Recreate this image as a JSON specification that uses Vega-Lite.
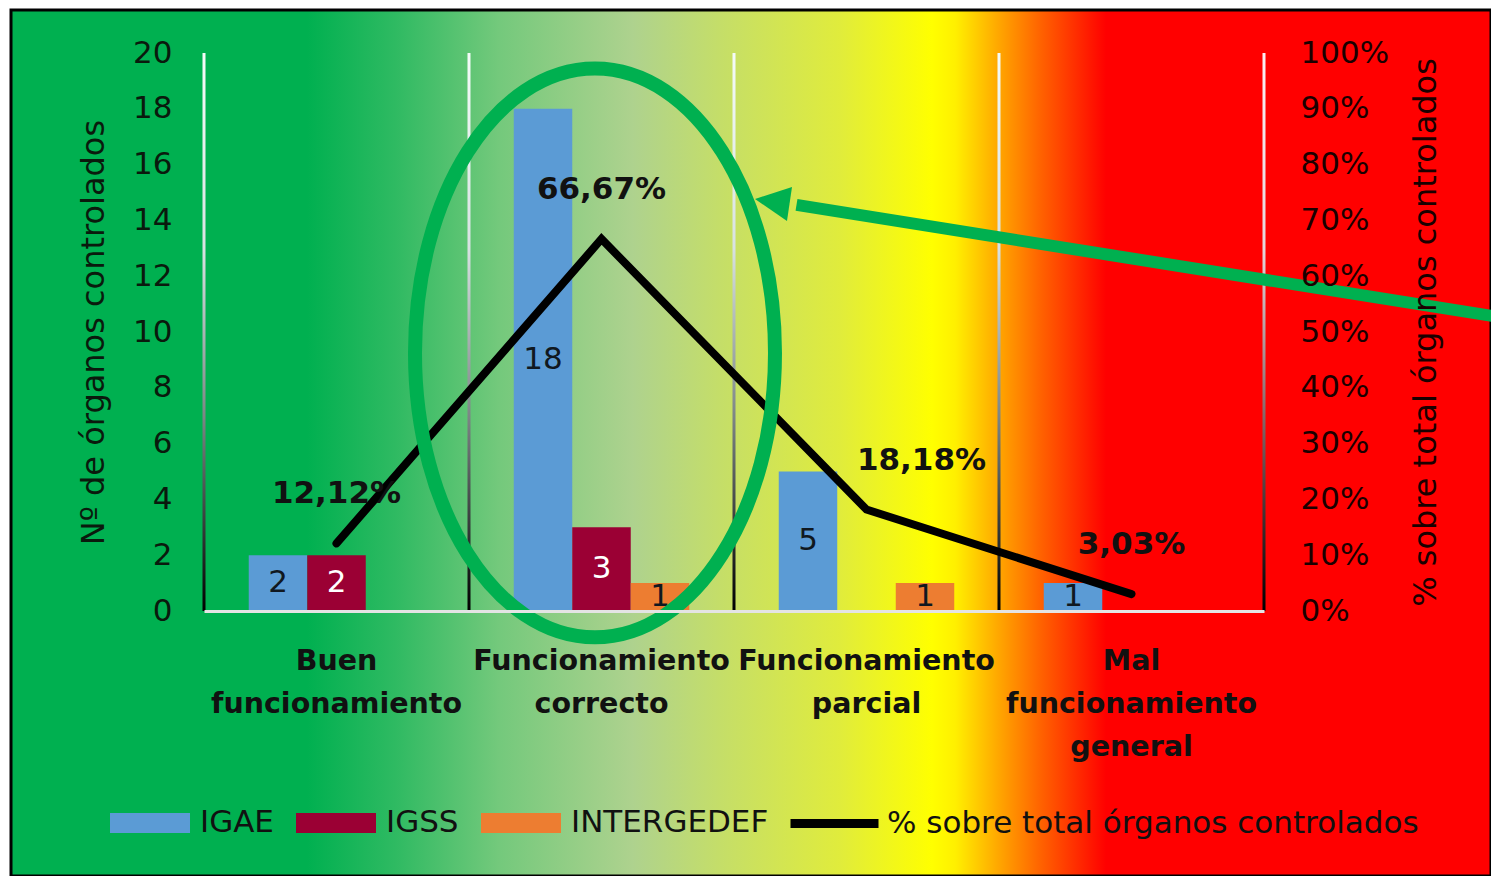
{
  "$schema": "https://vega.github.io/schema/vega-lite/v6.json",
  "width": 1480,
  "height": 866,
  "autosize": "none",
  "padding": {"left": 11, "top": 10, "right": 0, "bottom": 0},
  "background": "white",
  "config": {
    "font": "DejaVu Sans",
    "view": {"stroke": null},
    "locale": {"number": {"decimal": ",", "thousands": ".", "grouping": [3], "currency": ["", " €"]}}
  },
  "datasets": {
    "bars": [
      {"cat": "Buen funcionamiento", "org": "IGAE", "n": 2},
      {"cat": "Buen funcionamiento", "org": "IGSS", "n": 2},
      {"cat": "Funcionamiento correcto", "org": "IGAE", "n": 18},
      {"cat": "Funcionamiento correcto", "org": "IGSS", "n": 3},
      {"cat": "Funcionamiento correcto", "org": "INTERGEDEF", "n": 1},
      {"cat": "Funcionamiento parcial", "org": "IGAE", "n": 5},
      {"cat": "Funcionamiento parcial", "org": "INTERGEDEF", "n": 1},
      {"cat": "Mal funcionamiento general", "org": "IGAE", "n": 1}
    ],
    "pct": [
      {"cat": "Buen funcionamiento", "pct": 0.1212},
      {"cat": "Funcionamiento correcto", "pct": 0.6667},
      {"cat": "Funcionamiento parcial", "pct": 0.1818},
      {"cat": "Mal funcionamiento general", "pct": 0.0303}
    ],
    "cats": [
      {"cat": "Buen funcionamiento"},
      {"cat": "Funcionamiento correcto"},
      {"cat": "Funcionamiento parcial"},
      {"cat": "Mal funcionamiento general"}
    ],
    "ann": [{"cat": "Funcionamiento correcto"}]
  },
  "layer": [
    {
      "data": {"values": [{}]},
      "mark": {
        "type": "rect",
        "fill": {
          "gradient": "linear", "x1": 0, "y1": 0, "x2": 1, "y2": 0,
          "stops": [
            {"offset": 0, "color": "#00b050"},
            {"offset": 0.2, "color": "#00b050"},
            {"offset": 0.26, "color": "#2fba62"},
            {"offset": 0.33, "color": "#74c97c"},
            {"offset": 0.42, "color": "#aed28e"},
            {"offset": 0.48, "color": "#c5de68"},
            {"offset": 0.56, "color": "#e0ec3c"},
            {"offset": 0.622, "color": "#ffff00"},
            {"offset": 0.638, "color": "#fff000"},
            {"offset": 0.668, "color": "#ffa500"},
            {"offset": 0.695, "color": "#ff6400"},
            {"offset": 0.74, "color": "#ff0000"},
            {"offset": 1, "color": "#ff0000"}
          ]
        },
        "stroke": "#000000",
        "strokeWidth": 3
      },
      "encoding": {}
    },
    {
      "data": {"name": "cats"},
      "mark": {
        "type": "bar",
        "width": 3,
        "xOffset": {"expr": "-bandwidth('x')/2"},
        "fill": {
          "gradient": "linear", "x1": 0, "y1": 0, "x2": 0, "y2": 1,
          "stops": [
            {"offset": 0, "color": "#f4fbf8"},
            {"offset": 0.35, "color": "#d8e2e2"},
            {"offset": 0.65, "color": "#7d8686"},
            {"offset": 1, "color": "#000000"}
          ]
        }
      },
      "encoding": {
        "x": {"field": "cat", "type": "nominal",
              "scale": {"domain": ["Buen funcionamiento", "Funcionamiento correcto", "Funcionamiento parcial", "Mal funcionamiento general"], "range": [193, 1253], "paddingInner": 0, "paddingOuter": 0},
              "axis": {"orient": "bottom", "offset": -265, "zindex": 1, "title": null, "labelAngle": 0, "domain": true, "domainColor": "#e4e4e4", "domainWidth": 3, "ticks": false, "grid": false, "labelExpr": "split(datum.label, ' ')", "labelFont": "DejaVu Sans", "labelFontWeight": "bold", "labelFontSize": 28.5, "labelLineHeight": 43, "labelPadding": 35, "labelColor": "#111111", "labelLimit": 400}},
        "y": {"datum": 0, "type": "quantitative", "scale": {"domain": [0, 20], "range": [601, 43], "nice": false}, "axis": null},
        "y2": {"datum": 20}
      }
    },
    {
      "data": {"name": "cats"},
      "transform": [{"filter": "datum.cat === 'Mal funcionamiento general'"}],
      "mark": {
        "type": "bar",
        "width": 3,
        "xOffset": {"expr": "bandwidth('x')/2"},
        "fill": {
          "gradient": "linear", "x1": 0, "y1": 0, "x2": 0, "y2": 1,
          "stops": [
            {"offset": 0, "color": "#fbeef2"},
            {"offset": 0.35, "color": "#e6d6da"},
            {"offset": 0.65, "color": "#866868"},
            {"offset": 1, "color": "#000000"}
          ]
        }
      },
      "encoding": {
        "x": {"field": "cat", "type": "nominal",
              "axis": {"orient": "bottom", "offset": -265, "zindex": 1, "title": null, "labelAngle": 0, "domain": true, "domainColor": "#e4e4e4", "domainWidth": 3, "ticks": false, "grid": false, "labelExpr": "split(datum.label, ' ')", "labelFont": "DejaVu Sans", "labelFontWeight": "bold", "labelFontSize": 28.5, "labelLineHeight": 43, "labelPadding": 35, "labelColor": "#111111", "labelLimit": 400}},
        "y": {"datum": 0, "type": "quantitative", "scale": {"domain": [0, 20], "range": [601, 43], "nice": false}, "axis": null},
        "y2": {"datum": 20}
      }
    },
    {
      "data": {"name": "bars"},
      "mark": {"type": "bar"},
      "encoding": {
        "x": {"field": "cat", "type": "nominal",
              "axis": {"orient": "bottom", "offset": -265, "zindex": 1, "title": null, "labelAngle": 0, "domain": true, "domainColor": "#e4e4e4", "domainWidth": 3, "ticks": false, "grid": false, "labelExpr": "split(datum.label, ' ')", "labelFont": "DejaVu Sans", "labelFontWeight": "bold", "labelFontSize": 28.5, "labelLineHeight": 43, "labelPadding": 35, "labelColor": "#111111", "labelLimit": 400}},
        "xOffset": {"field": "org", "type": "nominal", "sort": ["IGAE", "IGSS", "INTERGEDEF"], "scale": {"paddingInner": 0, "paddingOuter": 0.765}},
        "y": {"field": "n", "type": "quantitative", "scale": {"domain": [0, 20], "range": [601, 43], "nice": false},
              "axis": {"orient": "left", "offset": -193, "zindex": 1, "values": [0, 2, 4, 6, 8, 10, 12, 14, 16, 18, 20], "domain": false, "ticks": false, "grid": false,
                       "labelFont": "DejaVu Sans", "labelFontSize": 31, "labelColor": "#0a1a0d", "labelPadding": 32,
                       "title": "Nº de órganos controlados", "titleFont": "DejaVu Sans", "titleFontSize": 32, "titleFontWeight": "normal", "titleColor": "#0a1a0d", "titlePadding": 22}},
        "color": {"field": "org", "type": "nominal",
                  "scale": {"domain": ["IGAE", "IGSS", "INTERGEDEF"], "range": ["#5b9bd5", "#9b0034", "#ed7d31"]},
                  "legend": {"orient": "none", "legendX": 99, "legendY": 773, "direction": "horizontal", "title": null, "padding": 0,
                             "symbolType": "M-1,-0.25H1V0.25H-1Z", "symbolSize": 6400, "symbolStrokeWidth": 0, "symbolOpacity": 1,
                             "labelFont": "DejaVu Sans", "labelFontSize": 31, "labelColor": "#111111", "labelOffset": 10, "labelLimit": 400, "columnPadding": 22}}
      }
    },
    {
      "data": {"name": "bars"},
      "mark": {"type": "text", "fontSize": 31, "font": "DejaVu Sans", "baseline": "middle", "align": "center"},
      "encoding": {
        "x": {"field": "cat", "type": "nominal",
              "axis": {"orient": "bottom", "offset": -265, "zindex": 1, "title": null, "labelAngle": 0, "domain": true, "domainColor": "#e4e4e4", "domainWidth": 3, "ticks": false, "grid": false, "labelExpr": "split(datum.label, ' ')", "labelFont": "DejaVu Sans", "labelFontWeight": "bold", "labelFontSize": 28.5, "labelLineHeight": 43, "labelPadding": 35, "labelColor": "#111111", "labelLimit": 400}},
        "xOffset": {"field": "org", "type": "nominal", "sort": ["IGAE", "IGSS", "INTERGEDEF"]},
        "y": {"field": "n", "type": "quantitative", "scale": {"domain": [0, 40], "range": [601, 43], "nice": false}, "axis": null},
        "text": {"field": "n", "type": "quantitative"},
        "color": {"condition": {"test": "datum.org === 'IGSS'", "value": "#ffffff"}, "value": "#101820"}
      }
    },
    {
      "data": {"name": "pct"},
      "mark": {"type": "line", "strokeWidth": 8, "strokeCap": "round", "strokeJoin": "miter"},
      "encoding": {
        "x": {"field": "cat", "type": "nominal",
              "axis": {"orient": "bottom", "offset": -265, "zindex": 1, "title": null, "labelAngle": 0, "domain": true, "domainColor": "#e4e4e4", "domainWidth": 3, "ticks": false, "grid": false, "labelExpr": "split(datum.label, ' ')", "labelFont": "DejaVu Sans", "labelFontWeight": "bold", "labelFontSize": 28.5, "labelLineHeight": 43, "labelPadding": 35, "labelColor": "#111111", "labelLimit": 400}},
        "y": {"field": "pct", "type": "quantitative", "scale": {"domain": [0, 1], "range": [601, 43], "nice": false},
              "axis": {"orient": "right", "offset": -227, "zindex": 1, "format": ".0%", "values": [0, 0.1, 0.2, 0.3, 0.4, 0.5, 0.6, 0.7, 0.8, 0.9, 1], "domain": false, "ticks": false, "grid": false,
                       "labelFont": "DejaVu Sans", "labelFontSize": 31, "labelColor": "#1a0000", "labelPadding": 36,
                       "title": "% sobre total órganos controlados", "titleFont": "DejaVu Sans", "titleFontSize": 32, "titleFontWeight": "normal", "titleColor": "#1a0000",
                       "titleAngle": 270, "titleBaseline": "top", "titlePadding": 22}},
        "stroke": {"datum": "% sobre total órganos controlados", "type": "nominal", "scale": {"range": ["#000000"]},
                   "legend": {"orient": "none", "legendX": 775, "legendY": 765, "title": null, "padding": 0,
                              "symbolType": "stroke", "symbolSize": 7744, "symbolStrokeWidth": 9,
                              "labelFont": "DejaVu Sans", "labelFontSize": 31, "labelColor": "#111111", "labelOffset": 4, "labelLimit": 700}}
      }
    },
    {
      "data": {"name": "pct"},
      "transform": [{"filter": "datum.cat !== 'Funcionamiento parcial'"}],
      "mark": {"type": "text", "font": "DejaVu Sans", "fontWeight": "bold", "fontSize": 31, "dy": -49, "color": "#111111"},
      "encoding": {
        "x": {"field": "cat", "type": "nominal",
              "axis": {"orient": "bottom", "offset": -265, "zindex": 1, "title": null, "labelAngle": 0, "domain": true, "domainColor": "#e4e4e4", "domainWidth": 3, "ticks": false, "grid": false, "labelExpr": "split(datum.label, ' ')", "labelFont": "DejaVu Sans", "labelFontWeight": "bold", "labelFontSize": 28.5, "labelLineHeight": 43, "labelPadding": 35, "labelColor": "#111111", "labelLimit": 400}},
        "y": {"field": "pct", "type": "quantitative", "scale": {"domain": [0, 1], "range": [601, 43], "nice": false}, "axis": null},
        "text": {"field": "pct", "type": "quantitative", "format": ".2%"}
      }
    },
    {
      "data": {"name": "pct"},
      "transform": [{"filter": "datum.cat === 'Funcionamiento parcial'"}],
      "mark": {"type": "text", "font": "DejaVu Sans", "fontWeight": "bold", "fontSize": 31, "dy": -49, "dx": 55, "color": "#111111"},
      "encoding": {
        "x": {"field": "cat", "type": "nominal",
              "axis": {"orient": "bottom", "offset": -265, "zindex": 1, "title": null, "labelAngle": 0, "domain": true, "domainColor": "#e4e4e4", "domainWidth": 3, "ticks": false, "grid": false, "labelExpr": "split(datum.label, ' ')", "labelFont": "DejaVu Sans", "labelFontWeight": "bold", "labelFontSize": 28.5, "labelLineHeight": 43, "labelPadding": 35, "labelColor": "#111111", "labelLimit": 400}},
        "y": {"field": "pct", "type": "quantitative", "scale": {"domain": [0, 1], "range": [601, 43], "nice": false}, "axis": null},
        "text": {"field": "pct", "type": "quantitative", "format": ".2%"}
      }
    },
    {
      "data": {"name": "ann"},
      "mark": {"type": "point", "shape": "M-0.6217,0A0.6,0.948,0,1,0,0.5783,0A0.6,0.948,0,1,0,-0.6217,0Z", "size": 360000, "filled": false, "stroke": "#00b050", "strokeWidth": 14, "opacity": 1, "strokeOpacity": 1},
      "encoding": {
        "x": {"field": "cat", "type": "nominal",
              "axis": {"orient": "bottom", "offset": -265, "zindex": 1, "title": null, "labelAngle": 0, "domain": true, "domainColor": "#e4e4e4", "domainWidth": 3, "ticks": false, "grid": false, "labelExpr": "split(datum.label, ' ')", "labelFont": "DejaVu Sans", "labelFontWeight": "bold", "labelFontSize": 28.5, "labelLineHeight": 43, "labelPadding": 35, "labelColor": "#111111", "labelLimit": 400}},
        "y": {"datum": 9.25, "type": "quantitative", "scale": {"domain": [0, 20], "range": [601, 43], "nice": false}, "axis": null}
      }
    },
    {
      "data": {"name": "ann"},
      "mark": {"type": "point", "shape": "M2.97,-0.123L0.65,-0.4933", "size": 360000, "filled": false, "stroke": "#00b050", "strokeWidth": 12, "opacity": 1, "strokeOpacity": 1},
      "encoding": {
        "x": {"field": "cat", "type": "nominal",
              "axis": {"orient": "bottom", "offset": -265, "zindex": 1, "title": null, "labelAngle": 0, "domain": true, "domainColor": "#e4e4e4", "domainWidth": 3, "ticks": false, "grid": false, "labelExpr": "split(datum.label, ' ')", "labelFont": "DejaVu Sans", "labelFontWeight": "bold", "labelFontSize": 28.5, "labelLineHeight": 43, "labelPadding": 35, "labelColor": "#111111", "labelLimit": 400}},
        "y": {"datum": 9.25, "type": "quantitative", "scale": {"domain": [0, 20], "range": [601, 43], "nice": false}, "axis": null}
      }
    },
    {
      "data": {"name": "ann"},
      "mark": {"type": "point", "shape": "M0.5117,-0.513L0.635,-0.553L0.6183,-0.4397Z", "size": 360000, "filled": true, "fill": "#00b050", "strokeWidth": 0, "opacity": 1, "fillOpacity": 1},
      "encoding": {
        "x": {"field": "cat", "type": "nominal",
              "axis": {"orient": "bottom", "offset": -265, "zindex": 1, "title": null, "labelAngle": 0, "domain": true, "domainColor": "#e4e4e4", "domainWidth": 3, "ticks": false, "grid": false, "labelExpr": "split(datum.label, ' ')", "labelFont": "DejaVu Sans", "labelFontWeight": "bold", "labelFontSize": 28.5, "labelLineHeight": 43, "labelPadding": 35, "labelColor": "#111111", "labelLimit": 400}},
        "y": {"datum": 9.25, "type": "quantitative", "scale": {"domain": [0, 20], "range": [601, 43], "nice": false}, "axis": null}
      }
    }
  ],
  "resolve": {"scale": {"y": "independent"}, "axis": {"y": "independent"}}
}
